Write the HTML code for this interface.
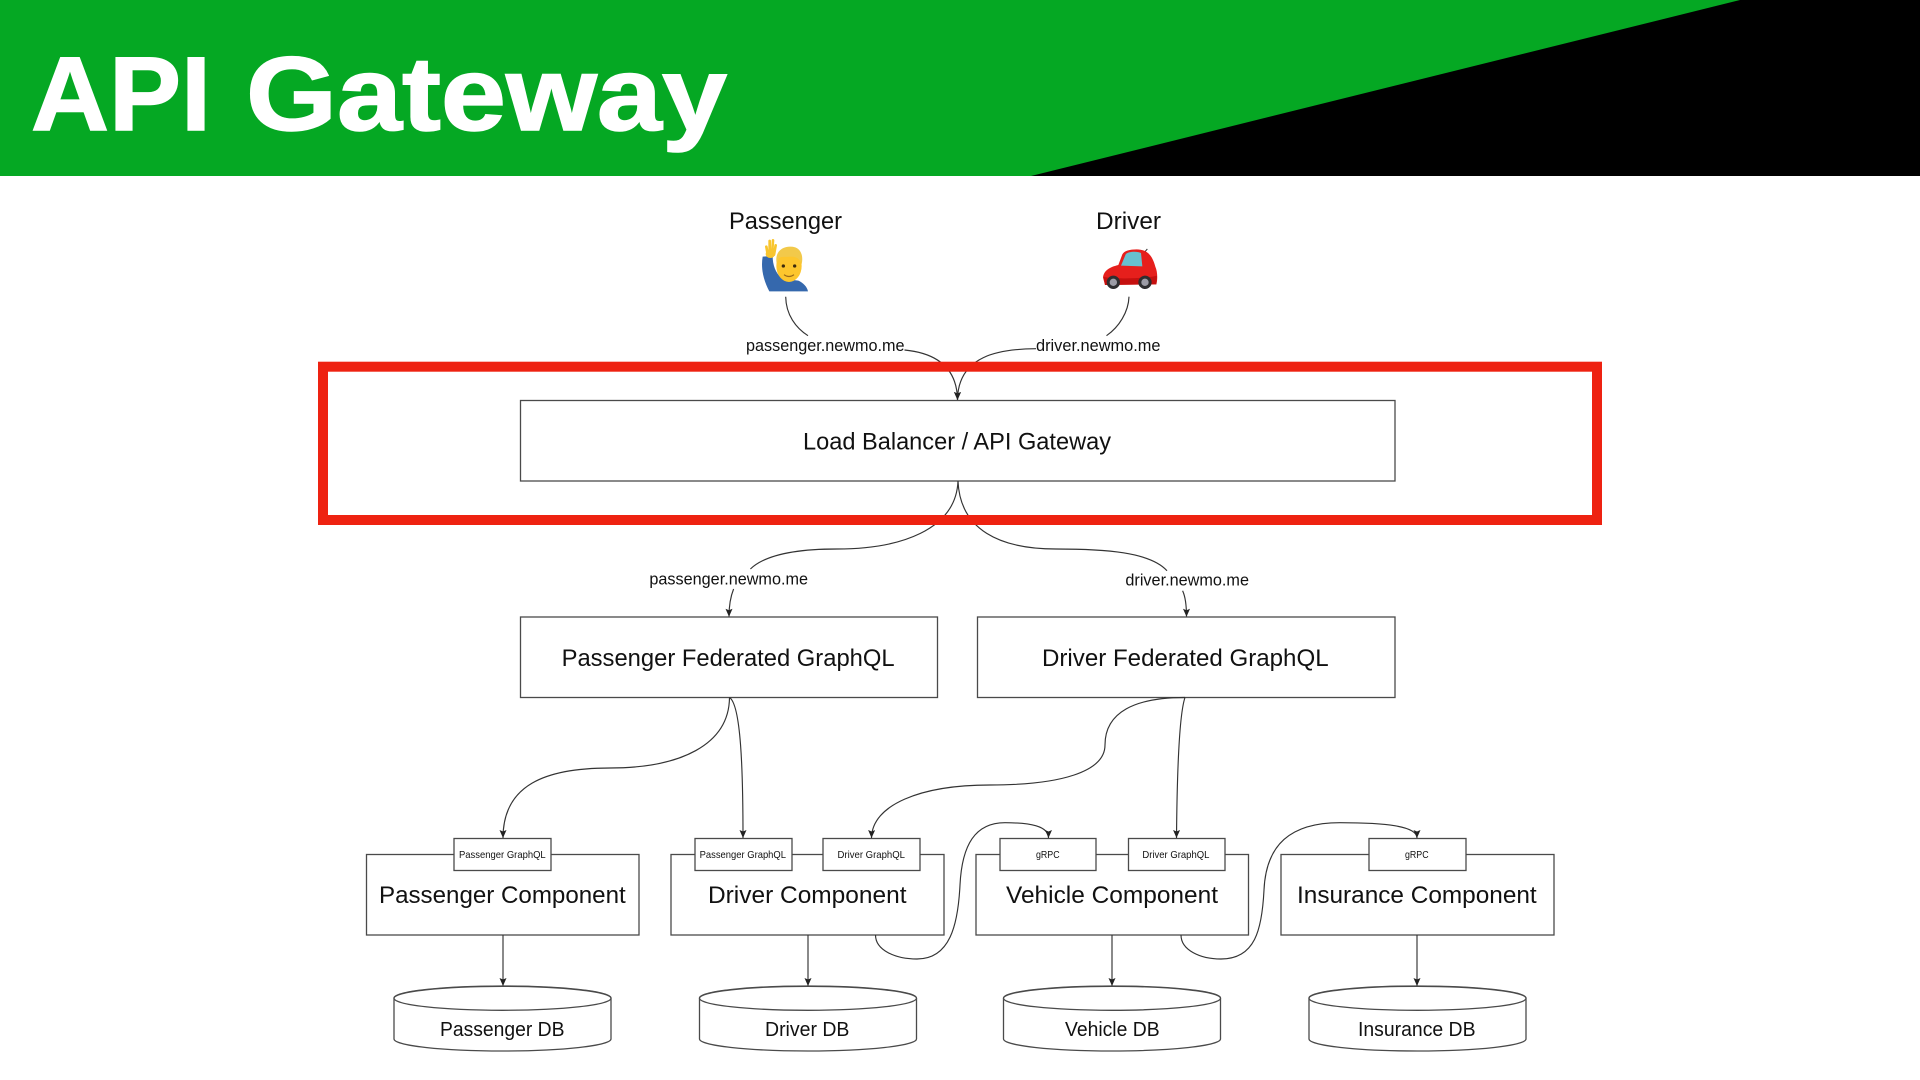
<!DOCTYPE html>
<html lang="en">
<head>
<meta charset="utf-8">
<title>API Gateway</title>
<style>
html,body{margin:0;padding:0;background:#fff;width:1920px;height:1080px;overflow:hidden}
svg{display:block;position:absolute;left:0;top:0}
text{font-family:"Liberation Sans",Arial,sans-serif;fill:#111}
.b{fill:#fff;stroke:#4a4a4a;stroke-width:1.3}
.c{fill:none;stroke:#333;stroke-width:1.15}
.a{marker-end:url(#ah)}
.f24{font-size:24px}
.f20{font-size:20px}
.f17{font-size:17px}
.f10{font-size:10.5px}
.t{font-size:105px;font-weight:700;fill:#fff;stroke:#fff;stroke-width:1.5}
</style>
</head>
<body>
<svg width="1920" height="1080" viewBox="0 0 1920 1080" xmlns="http://www.w3.org/2000/svg">
<defs>
<marker id="ah" markerUnits="userSpaceOnUse" markerWidth="9" markerHeight="8" refX="8" refY="3.5" orient="auto">
<path d="M0 0L8 3.5L0 7L1.5 3.5Z" fill="#222"/>
</marker>
</defs>

<!-- banner -->
<rect x="0" y="0" width="1920" height="176" fill="#05a823"/>
<polygon points="1031,176 1740,0 1920,0 1920,176" fill="#000"/>
<text class="t" x="31" y="130" textLength="180" lengthAdjust="spacingAndGlyphs">API</text>
<text class="t" x="246" y="130" textLength="481" lengthAdjust="spacingAndGlyphs">Gateway</text>

<!-- top labels -->
<text class="f24" x="729" y="229" textLength="113" lengthAdjust="spacingAndGlyphs">Passenger</text>
<text class="f24" x="1096" y="229" textLength="65" lengthAdjust="spacingAndGlyphs">Driver</text>

<!-- man emoji -->
<g transform="translate(750,230) scale(.3333)">
<path d="M38 80L68 78C68 105 76 128 96 146L145 152C160 158 172 172 174 184L58 184C40 150 32 115 38 80Z" fill="#3568ad"/>
<g stroke="#f8c52e" stroke-width="8" stroke-linecap="round"><path d="M49 50L53 72M59 33L59 72M69 31L66 72M77 46L72 74"/></g>
<ellipse cx="61" cy="72" rx="14" ry="12" fill="#f8c52e"/>
<ellipse cx="117" cy="108" rx="38" ry="48" fill="#fdc62d"/>
<path d="M80 100C72 58 108 44 136 52C160 62 158 90 155 102C150 88 140 80 124 80C108 82 94 78 88 84C84 88 84 94 80 100Z" fill="#f2c94a"/>
<circle cx="100" cy="108" r="5" fill="#3d2b0d"/><circle cx="134" cy="108" r="5" fill="#3d2b0d"/>
<path d="M102 134Q117 145 132 134" fill="none" stroke="#9c6a18" stroke-width="3.5"/>
</g>

<!-- car emoji -->
<g transform="translate(1095,235) scale(.3333)">
<path d="M150 50L157 42" stroke="#333" stroke-width="3"/>
<path d="M24 128C26 106 45 96 70 90L82 58C88 47 105 43 125 43C155 43 172 60 181 95C188 110 188 135 184 148L30 150Z" fill="#e61f1c"/>
<path d="M26 126C60 132 150 132 186 122L184 148L30 150Z" fill="#c5100f"/>
<path d="M78 92L92 58C98 49 128 48 138 54L142 94Z" fill="#68c0cf"/>
<circle cx="55" cy="142" r="20" fill="#2e2e30"/><circle cx="55" cy="142" r="11" fill="#9c9ca6"/>
<circle cx="150" cy="142" r="20" fill="#2e2e30"/><circle cx="150" cy="142" r="11" fill="#9c9ca6"/>
</g>

<!-- top connectors -->
<path class="c" d="M785.7 296.7C786 315 796 328 808 335.7"/>
<path class="c" d="M1129 296.7C1128.5 312 1119 327 1106.5 335.7"/>
<path class="c a" d="M904.5 350C925 352 957 360 957.5 400"/>
<path class="c a" d="M1036 348.7C1000 349 958 355 957.5 400"/>
<text class="f17" x="746" y="351" textLength="158.5" lengthAdjust="spacingAndGlyphs">passenger.newmo.me</text>
<text class="f17" x="1036" y="351" textLength="124.5" lengthAdjust="spacingAndGlyphs">driver.newmo.me</text>

<!-- LB -->
<rect class="b" x="520.5" y="400.5" width="874.5" height="80.5"/>
<text class="f24" x="803" y="449.5" textLength="308" lengthAdjust="spacingAndGlyphs">Load Balancer / API Gateway</text>

<!-- LB down connectors -->
<path class="c" d="M958 481C956 530 900 549 837 549C795 549 765 555 750.4 569"/>
<path class="c a" d="M733.6 589C730 598 729 607 729 616.7"/>
<path class="c" d="M958 481C960 530 1000 549 1056 549C1105 549 1150 552 1167 570.7"/>
<path class="c a" d="M1182.6 590.7C1186 598 1186.5 607 1186.5 616.7"/>
<text class="f17" x="649.4" y="584.3" textLength="158.6" lengthAdjust="spacingAndGlyphs">passenger.newmo.me</text>
<text class="f17" x="1125.4" y="585.7" textLength="123.6" lengthAdjust="spacingAndGlyphs">driver.newmo.me</text>

<!-- Federated -->
<rect class="b" x="520.5" y="617" width="417" height="80.5"/>
<text class="f24" x="561.6" y="666" textLength="333" lengthAdjust="spacingAndGlyphs">Passenger Federated GraphQL</text>
<rect class="b" x="977.5" y="617" width="417.5" height="80.5"/>
<text class="f24" x="1042" y="666" textLength="286.6" lengthAdjust="spacingAndGlyphs">Driver Federated GraphQL</text>

<!-- Components -->
<rect class="b" x="366.5" y="854.5" width="272.5" height="80.5"/>
<rect class="b" x="671" y="854.5" width="273" height="80.5"/>
<rect class="b" x="976" y="854.5" width="272.5" height="80.5"/>
<rect class="b" x="1281" y="854.5" width="273" height="80.5"/>

<!-- Tabs -->
<rect class="b" x="454" y="838.5" width="97" height="32"/>
<rect class="b" x="695" y="838.5" width="97" height="32"/>
<rect class="b" x="823" y="838.5" width="97" height="32"/>
<rect class="b" x="1000" y="838.5" width="96" height="32"/>
<rect class="b" x="1128.5" y="838.5" width="96.5" height="32"/>
<rect class="b" x="1369" y="838.5" width="97" height="32"/>

<text class="f10" x="459" y="858" textLength="86.7" lengthAdjust="spacingAndGlyphs">Passenger GraphQL</text>
<text class="f10" x="699.6" y="858" textLength="86.4" lengthAdjust="spacingAndGlyphs">Passenger GraphQL</text>
<text class="f10" x="837.5" y="858" textLength="67.5" lengthAdjust="spacingAndGlyphs">Driver GraphQL</text>
<text class="f10" x="1036" y="858" textLength="23.6" lengthAdjust="spacingAndGlyphs">gRPC</text>
<text class="f10" x="1142.4" y="858" textLength="67" lengthAdjust="spacingAndGlyphs">Driver GraphQL</text>
<text class="f10" x="1405" y="858" textLength="23.6" lengthAdjust="spacingAndGlyphs">gRPC</text>

<text class="f24" x="379" y="903" textLength="246.7" lengthAdjust="spacingAndGlyphs">Passenger Component</text>
<text class="f24" x="708" y="903" textLength="198.5" lengthAdjust="spacingAndGlyphs">Driver Component</text>
<text class="f24" x="1006" y="903" textLength="212" lengthAdjust="spacingAndGlyphs">Vehicle Component</text>
<text class="f24" x="1297" y="903" textLength="239.7" lengthAdjust="spacingAndGlyphs">Insurance Component</text>

<!-- Federated to tab connectors -->
<path class="c a" d="M729.5 697.5C729 745 680 768 610 768C545 768 503 785 503 838"/>
<path class="c a" d="M729.5 697.5C741 705 743 770 743 838"/>
<path class="c a" d="M1185 697.5C1135 697.5 1105 712 1105 745C1105 772 1060 785 990 785C920 785 872 805 871.5 838"/>
<path class="c a" d="M1185 697.5C1179 715 1177 780 1176.5 838"/>

<!-- gRPC loops -->
<path class="c a" d="M875.5 935C875.5 950 895 959 917 959C950 959 958 925 960 885C962 845 975 822.7 1005 822.7C1030 822.7 1048.5 826 1048.5 838"/>
<path class="c a" d="M1181 935C1181 950 1200 959 1221 959C1255 959 1262 930 1264 890C1266 845 1290 822.7 1340 822.7C1385 822.7 1417 826 1417 838"/>

<!-- Component to DB -->
<path class="c a" d="M503 935V986"/>
<path class="c a" d="M808 935V986"/>
<path class="c a" d="M1112 935V986"/>
<path class="c a" d="M1417 935V986"/>

<!-- DBs -->
<g fill="#fff" stroke="#4a4a4a" stroke-width="1.3">
<path d="M394 998A108.5 12 0 0 1 611 998V1039A108.5 12 0 0 1 394 1039Z"/>
<ellipse cx="502.5" cy="998.3" rx="108.5" ry="12"/>
<path d="M699.5 998A108.5 12 0 0 1 916.5 998V1039A108.5 12 0 0 1 699.5 1039Z"/>
<ellipse cx="808" cy="998.3" rx="108.5" ry="12"/>
<path d="M1003.5 998A108.5 12 0 0 1 1220.5 998V1039A108.5 12 0 0 1 1003.5 1039Z"/>
<ellipse cx="1112" cy="998.3" rx="108.5" ry="12"/>
<path d="M1309 998A108.5 12 0 0 1 1526 998V1039A108.5 12 0 0 1 1309 1039Z"/>
<ellipse cx="1417.5" cy="998.3" rx="108.5" ry="12"/>
</g>
<text class="f20" x="440" y="1036" textLength="124.5" lengthAdjust="spacingAndGlyphs">Passenger DB</text>
<text class="f20" x="765" y="1036" textLength="84.4" lengthAdjust="spacingAndGlyphs">Driver DB</text>
<text class="f20" x="1065" y="1036" textLength="94.6" lengthAdjust="spacingAndGlyphs">Vehicle DB</text>
<text class="f20" x="1358" y="1036" textLength="117.5" lengthAdjust="spacingAndGlyphs">Insurance DB</text>

<!-- Red highlight -->
<rect x="323" y="366.7" width="1274" height="153.3" fill="none" stroke="#ee2211" stroke-width="10"/>
</svg>
</body>
</html>
